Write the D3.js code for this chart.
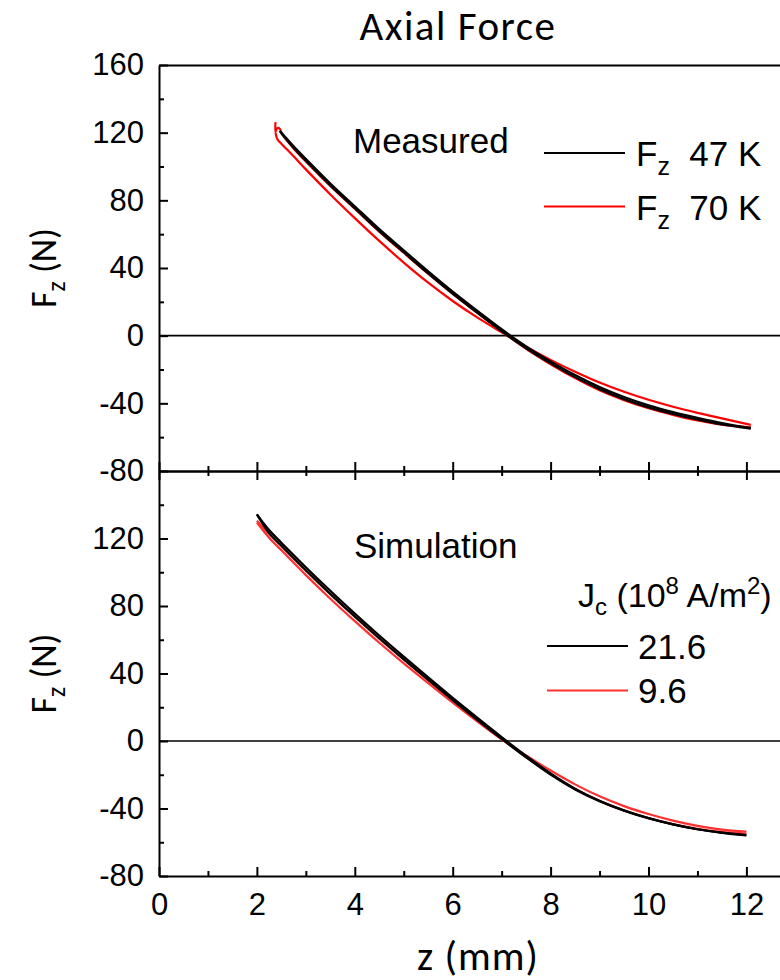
<!DOCTYPE html>
<html>
<head>
<meta charset="utf-8">
<script src="https://cdn.jsdelivr.net/npm/d3@7"></script>
<style>
  html, body { margin: 0; padding: 0; background: #fff; }
  svg { display: block; }
  text { white-space: pre; }
</style>
</head>
<body>
<svg id="chart" width="780" height="980"></svg>
<script>
// ---- axis ticks ----
const zTicks = [0, 2, 4, 6, 8, 10, 12];
const zMinorTicks = [1, 3, 5, 7, 9, 11, 13];
const fTicksTop = [160, 120, 80, 40, 0, -40, -80];
const fTicksBottom = [120, 80, 40, 0, -40, -80];
const fMinorTicks = [140, 100, 60, 20, -20, -60];

// ---- measured axial force, z (mm) vs Fz (N) ----
// 47 K: outgoing branch and return branch
const measured47Out = [[2.47,121],[2.75,112],[3.0,104.5],[3.5,90],[4.0,76.5],[4.5,63],[5.0,50.5],[5.5,38],[6.0,26],[6.5,14.8],[7.0,3.8],[7.5,-6.3],[8.0,-15.2],[8.5,-23.3],[9.0,-30.4],[9.5,-36.3],[10.0,-41.2],[10.5,-45.2],[11.0,-48.6],[11.5,-51.7],[12.09,-54.7]];
const measured47Back = [[12.09,-55.0],[11.5,-52.5],[11.0,-49.6],[10.5,-46.3],[10.0,-42.4],[9.5,-37.5],[9.0,-31.6],[8.5,-24.5],[8.0,-16.4],[7.5,-7.5],[7.0,2.6],[6.5,13.6],[6.0,24.8],[5.5,36.8],[5.0,49.3],[4.5,61.8],[4.0,75.3],[3.5,88.8],[3.0,103.4],[2.75,111.1],[2.5,119.6],[2.47,121]];
// 70 K: outgoing branch (with the start-up spike) and return branch
const measured70Out = [[2.38,126.2],[2.38,120.5],[2.42,122.8],[2.47,122.2],[2.5,120],[2.75,110.6],[3.0,103],[3.5,88.5],[4.0,75],[4.5,61.5],[5.0,49],[5.5,36.6],[6.0,24.7],[6.5,13.6],[7.0,2.6],[7.5,-7.8],[8.0,-16.9],[8.5,-25.1],[9.0,-32.3],[9.5,-38.1],[10.0,-42.9],[10.5,-46.8],[11.0,-50.1],[11.5,-52.6],[12.09,-54.2]];
const measured70Back = [[12.09,-52.7],[11.5,-48.9],[11.0,-45.6],[10.5,-42],[10.0,-37.9],[9.5,-33.2],[9.0,-27.7],[8.5,-21.3],[8.0,-14.3],[7.5,-6.5],[7.0,2],[6.5,10.8],[6.0,20.5],[5.5,31.3],[5.0,43.2],[4.5,56],[4.0,69.5],[3.5,83.5],[3.0,98.3],[2.75,106],[2.5,113.5],[2.42,116],[2.38,120]];

// ---- simulated axial force for two critical current densities ----
const sim216Out = [[2.0,134.3],[2.25,125],[2.5,117.5],[3.0,103],[3.5,89],[4.0,75.5],[4.5,62.5],[5.0,50],[5.5,37.7],[6.0,25.6],[6.5,13.8],[7.0,2.3],[7.5,-8.8],[8.0,-19.2],[8.5,-28.2],[9.0,-35.4],[9.5,-41.1],[10.0,-45.7],[10.5,-49.4],[11.0,-52.3],[11.5,-54.3],[12.0,-55.7]];
const sim216Back = [[12.0,-55.9],[11.5,-54.4],[11.0,-52.3],[10.5,-49.4],[10.0,-45.8],[9.5,-41.3],[9.0,-35.7],[8.5,-28.7],[8.0,-19.9],[7.5,-9.7],[7.0,1.2],[6.5,12.5],[6.0,24.2],[5.5,36.2],[5.0,48.4],[4.5,60.9],[4.0,73.8],[3.5,87.2],[3.0,101.2],[2.5,115.8],[2.25,123.2],[2.0,134.3]];
const sim96Out = [[2.0,130.5],[2.25,122.6],[2.5,115.3],[3.0,100.9],[3.5,87],[4.0,73.6],[4.5,60.7],[5.0,48.3],[5.5,36.1],[6.0,24.2],[6.5,12.6],[7.0,1.4],[7.5,-9.5],[8.0,-19.6],[8.5,-28.4],[9.0,-35.5],[9.5,-41.2],[10.0,-45.7],[10.5,-49.3],[11.0,-52.1],[11.5,-53.9],[12.0,-54.8]];
const sim96Back = [[12.0,-53.7],[11.5,-52.5],[11.0,-50.3],[10.5,-47.2],[10.0,-43.3],[9.5,-38.6],[9.0,-32.8],[8.5,-25.7],[8.0,-17.5],[7.5,-8.6],[7.0,1],[6.5,11.7],[6.0,22.8],[5.5,34.3],[5.0,46],[4.5,58.2],[4.0,71],[3.5,84.3],[3.0,98.3],[2.5,113],[2.25,120.5],[2.0,129.5]];

// ---- legends ----
const measuredLegend = [{temp: "47 K", color: "#000000"}, {temp: "70 K", color: "#ff0000"}];
const simLegend = [{jc: "21.6", color: "#000000"}, {jc: "9.6", color: "#ff3030"}];

// ---- layout ----
const svg = d3.select("#chart");
const sans = "'Liberation Sans', Arial, sans-serif";
const humanist = "Carlito, Calibri, 'Open Sans', sans-serif";
const plainNumber = d => String(d);

const x = d3.scaleLinear().domain([0, 13]).range([159, 159 + 13 * 48.95]);
const yTop = d3.scaleLinear().domain([-80, 160]).range([471, 65]);
const yBot = d3.scaleLinear().domain([-80, 160]).range([876, 471]);

function styleAxis(g) {
  g.selectAll("path.domain").attr("stroke", "#000").attr("stroke-width", 2);
  g.selectAll(".tick line").attr("stroke", "#000").attr("stroke-width", 2);
  g.selectAll(".tick text").attr("font-family", sans).attr("font-size", 31).attr("fill", "#000");
}

function drawPanel(y, fTicks, opts) {
  const x0 = x.range()[0];
  // left axis, ticks pointing inward
  const left = svg.append("g").attr("transform", `translate(${x0},0)`)
    .call(d3.axisLeft(y).tickValues(fTicks).tickSize(-9).tickSizeOuter(0).tickPadding(15).tickFormat(plainNumber));
  styleAxis(left);
  const leftMinor = svg.append("g").attr("transform", `translate(${x0},0)`)
    .call(d3.axisLeft(y).tickValues(fMinorTicks).tickSize(-5).tickSizeOuter(0).tickFormat(""));
  styleAxis(leftMinor);
  leftMinor.select("path.domain").remove();

  // bottom axis of the panel
  const yb = y.range()[0];
  const bottom = svg.append("g").attr("transform", `translate(0,${yb})`)
    .call(d3.axisBottom(x).tickValues(zTicks).tickSize(-9).tickSizeOuter(0).tickPadding(17)
      .tickFormat(opts.xLabels ? plainNumber : ""));
  styleAxis(bottom);
  const bottomMinor = svg.append("g").attr("transform", `translate(0,${yb})`)
    .call(d3.axisBottom(x).tickValues(zMinorTicks).tickSize(-5).tickSizeOuter(0).tickFormat(""));
  styleAxis(bottomMinor);
  bottomMinor.select("path.domain").remove();

  // top border of the panel
  const yt = y.range()[1];
  const top = svg.append("g").attr("transform", `translate(0,${yt})`)
    .call(d3.axisTop(x).tickValues(opts.topTicks ? zTicks : []).tickSize(-9).tickSizeOuter(0).tickFormat(""));
  styleAxis(top);
  if (opts.topTicks) {
    const topMinor = svg.append("g").attr("transform", `translate(0,${yt})`)
      .call(d3.axisTop(x).tickValues(zMinorTicks).tickSize(-5).tickSizeOuter(0).tickFormat(""));
    styleAxis(topMinor);
    topMinor.select("path.domain").remove();
  }

  // zero reference line
  svg.append("line")
    .attr("x1", x.range()[0]).attr("x2", x.range()[1])
    .attr("y1", y(0)).attr("y2", y(0))
    .attr("stroke", "#000").attr("stroke-width", 1.6);
}

drawPanel(yTop, fTicksTop, {xLabels: false, topTicks: false});
drawPanel(yBot, fTicksBottom, {xLabels: true, topTicks: true});

// ---- force curves ----
function drawLoop(y, outBranch, backBranch, color) {
  const line = d3.line().x(d => x(d[0])).y(d => y(d[1])).curve(d3.curveCatmullRom.alpha(0.5));
  [outBranch, backBranch].forEach(branch => {
    svg.append("path").datum(branch)
      .attr("d", line)
      .attr("fill", "none")
      .attr("stroke", color)
      .attr("stroke-width", 2.2)
      .attr("stroke-linejoin", "round");
  });
}

drawLoop(yTop, measured70Out, measured70Back, measuredLegend[1].color);
drawLoop(yTop, measured47Out, measured47Back, measuredLegend[0].color);
drawLoop(yBot, sim96Out, sim96Back, simLegend[1].color);
drawLoop(yBot, sim216Out, sim216Back, simLegend[0].color);

// ---- annotations and legends ----
svg.append("text").attr("x", 353).attr("y", 153)
  .attr("font-family", sans).attr("font-size", 35).text("Measured");
svg.append("text").attr("x", 354).attr("y", 558)
  .attr("font-family", sans).attr("font-size", 35).text("Simulation");

measuredLegend.forEach((d, i) => {
  const cy = 153 + i * 53.5;
  svg.append("line").attr("x1", 544).attr("x2", 625).attr("y1", cy).attr("y2", cy)
    .attr("stroke", d.color).attr("stroke-width", 2);
  const t = svg.append("text").attr("x", 636).attr("y", cy + 13)
    .attr("font-family", sans).attr("font-size", 35).attr("fill", "#000");
  t.append("tspan").text("F");
  t.append("tspan").attr("font-size", 25).attr("dy", 9).text("z");
  t.append("tspan").attr("dy", -9).text("  " + d.temp);
});

const jc = svg.append("text").attr("x", 578).attr("y", 607)
  .attr("font-family", sans).attr("font-size", 34).attr("fill", "#000");
jc.append("tspan").text("J");
jc.append("tspan").attr("font-size", 24).attr("dy", 8).text("c");
jc.append("tspan").attr("dy", -8).text(" (10");
jc.append("tspan").attr("font-size", 24).attr("dy", -13).text("8");
jc.append("tspan").attr("dy", 13).text(" A/m");
jc.append("tspan").attr("font-size", 24).attr("dy", -13).text("2");
jc.append("tspan").attr("dy", 13).text(")");

simLegend.forEach((d, i) => {
  const cy = 646 + i * 44.5;
  svg.append("line").attr("x1", 547).attr("x2", 628).attr("y1", cy).attr("y2", cy)
    .attr("stroke", d.color).attr("stroke-width", 2);
  svg.append("text").attr("x", 638).attr("y", cy + 12.5)
    .attr("font-family", sans).attr("font-size", 35).attr("fill", "#000").text(d.jc);
});

// ---- titles ----
svg.append("text").attr("x", 458).attr("y", 40).attr("text-anchor", "middle")
  .attr("font-family", humanist).attr("font-size", 41).attr("letter-spacing", 1.5)
  .attr("fill", "#000").text("Axial Force");

[yTop, yBot].forEach(y => {
  const cy = (y.range()[0] + y.range()[1]) / 2;
  const t = svg.append("text")
    .attr("transform", `translate(56,${cy}) rotate(-90)`)
    .attr("text-anchor", "middle")
    .attr("font-family", humanist).attr("font-size", 36).attr("fill", "#000");
  t.append("tspan").text("F");
  t.append("tspan").attr("font-size", 26).attr("dy", 9).text("z");
  t.append("tspan").attr("dy", -9).text(" (N)");
});

svg.append("text").attr("x", 478).attr("y", 970).attr("text-anchor", "middle")
  .attr("font-family", humanist).attr("font-size", 41).attr("letter-spacing", 1)
  .attr("fill", "#000").text("z (mm)");
</script>
</body>
</html>
